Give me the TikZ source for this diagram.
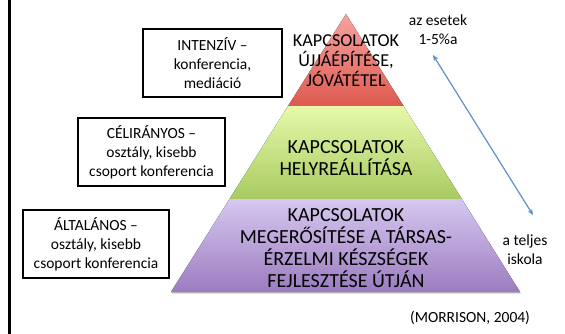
\documentclass[tikz,border=0pt]{standalone}
\usepackage{fontspec}
\setmainfont{Carlito}
\usetikzlibrary{arrows.meta,calc}
\definecolor{redtop}{HTML}{F5A3A0}
\definecolor{redbot}{HTML}{DD5A50}
\definecolor{greentop}{HTML}{E6F9AA}
\definecolor{greenbot}{HTML}{A8CB60}
\definecolor{purpletop}{HTML}{D6C7F0}
\definecolor{purplebot}{HTML}{9C7CC0}
\definecolor{arrowblue}{HTML}{5B8FCB}
\begin{document}
\begin{tikzpicture}[x=1pt,y=-1pt,
	levelbox/.style={draw, line width=1.3pt, align=center, inner sep=0pt,
		minimum height=68pt, font=\fontsize{15.5}{19}\selectfont},
	pyrtext/.style={align=center, font=\fontsize{20}{22}\selectfont},
	sidetext/.style={align=center, font=\fontsize{15.5}{19}\selectfont},
	span/.style={draw=arrowblue, line width=1.2pt, {Stealth[length=6pt,width=5pt]}-{Stealth[length=6pt,width=5pt]}}]
				\useasboundingbox (0,0) rectangle (565,334);
				\draw[line width=2.7pt] (9.7,0) -- (9.7,334);
				
				% pyramid corners
				\coordinate (apex) at (346,14);
				\coordinate (bl) at (171,292);
				\coordinate (br) at (520,292);
				\coordinate (l1) at ($(apex)!0.331!(bl)$);
				\coordinate (r1) at ($(apex)!0.331!(br)$);
				\coordinate (l2) at ($(apex)!0.6655!(bl)$);
				\coordinate (r2) at ($(apex)!0.6655!(br)$);
				
				\fill[gray!35] ($(bl)+(1,1.5)$) -- ($(br)+(1,1.5)$) -- (r2) -- (l2) -- cycle;
				\fill[top color=redtop, bottom color=redbot] (apex) -- (r1) -- (l1) -- cycle;
				\fill[top color=greentop, bottom color=greenbot] (l1) -- (r1) -- (r2) -- (l2) -- cycle;
				\fill[top color=purpletop, bottom color=purplebot] (l2) -- (r2) -- (br) -- (bl) -- cycle;
				
				\node[pyrtext, font=\fontsize{18.2}{20}\selectfont] (top) at (346,61) {KAPCSOLATOK\\ÚJJÁÉPÍTÉSE,\\JÓVÁTÉTEL};
				\node[pyrtext] (mid) at (346,158) {KAPCSOLATOK\\HELYREÁLLÍTÁSA};
				\node[pyrtext] (base) at (346,248) {KAPCSOLATOK\\MEGERŐSÍTÉSE A TÁRSAS-\\ÉRZELMI KÉSZSÉGEK\\FEJLESZTÉSE ÚTJÁN};
				
				\node[levelbox, minimum width=139pt] (intenziv) at (212.5,63) {INTENZÍV --\\konferencia,\\mediáció};
				\node[levelbox, minimum width=147pt] (celiranyos) at (151.5,152) {CÉLIRÁNYOS --\\osztály, kisebb\\csoport konferencia};
				\node[levelbox, minimum width=146pt] (altalanos) at (96,244) {ÁLTALÁNOS --\\osztály, kisebb\\csoport konferencia};
				
				\node[sidetext] (few) at (438,30) {az esetek\\1-5\%a};
				\node[sidetext] (all) at (525,250) {a teljes\\iskola};
				\node[sidetext] (source) at (470,318) {(MORRISON, 2004)};
				
				\coordinate (upper) at (433,55);
				\coordinate (lower) at (533,215);
				\draw[span] (upper) -- (lower);
			\end{tikzpicture}
\end{document}
